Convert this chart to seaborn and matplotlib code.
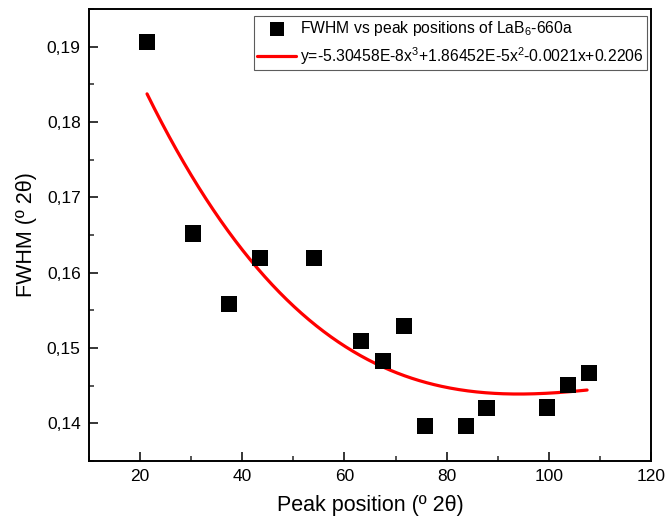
import numpy as np
import pandas as pd
import matplotlib
matplotlib.use("Agg")
import matplotlib.pyplot as plt
from matplotlib.ticker import MultipleLocator, FuncFormatter
import seaborn as sns

# ---- data ----
peak_position = [21.3, 30.3, 37.4, 43.4, 54.0, 63.2, 67.5, 71.7, 75.8, 83.8, 87.8, 99.7, 103.8, 107.8]
fwhm = [0.1906, 0.1652, 0.1558, 0.1620, 0.1620, 0.1509, 0.1483, 0.1529, 0.1396, 0.1397, 0.1420, 0.1421, 0.1451, 0.1467]
# cubic fit coefficients shown in the legend (highest power first)
fit_coeffs = [-5.30458e-8, 1.86452e-5, -0.0021, 0.2206]
fit_range = [21.36, 107.49]

scatter_label = "FWHM vs peak positions of LaB$_6$-660a"
fit_label = "y=-5.30458E-8x$^3$+1.86452E-5x$^2$-0.0021x+0.2206"
x_label = "Peak position (º 2θ)"
y_label = "FWHM (º 2θ)"

sns.set_style("ticks")
plt.rcParams['font.family'] = ['Liberation Sans', 'DejaVu Sans']
plt.rcParams['mathtext.fontset'] = 'custom'
plt.rcParams['mathtext.rm'] = 'Liberation Sans'
plt.rcParams['mathtext.it'] = 'Liberation Sans'
plt.rcParams['mathtext.default'] = 'regular'
plt.rcParams['text.color'] = 'black'
plt.rcParams['axes.labelcolor'] = 'black'

fig = plt.figure(figsize=(6.71, 5.31), dpi=100)
ax = fig.add_axes([89/671, 70/531, 562/671, 452/531])

df = pd.DataFrame({"x": peak_position, "y": fwhm})
xs = np.linspace(fit_range[0], fit_range[1], 300)
fit_df = pd.DataFrame({"x": xs, "y": np.polyval(fit_coeffs, xs)})

sns.scatterplot(data=df, x="x", y="y", marker="s", s=135, color="black",
                edgecolor="none", ax=ax, label=scatter_label, zorder=3)
sns.lineplot(data=fit_df, x="x", y="y", color="#ff0000", linewidth=2.3,
             ax=ax, label=fit_label, zorder=2)

ax.set_xlim(10, 120)
ax.set_ylim(0.135, 0.195)
ax.xaxis.set_major_locator(MultipleLocator(20))
ax.xaxis.set_minor_locator(MultipleLocator(10))
ax.yaxis.set_major_locator(MultipleLocator(0.01))
ax.yaxis.set_minor_locator(MultipleLocator(0.005))
ax.yaxis.set_major_formatter(FuncFormatter(lambda v, p: f"{v:.2f}".replace(".", ",")))

ax.tick_params(axis="both", which="major", direction="in", length=6.5, width=1.1,
               labelsize=12.5, colors="black", pad=6)
ax.tick_params(axis="both", which="minor", direction="in", length=3.5, width=1.1)
ax.tick_params(top=False, right=False)
for sp in ax.spines.values():
    sp.set_visible(True)
    sp.set_linewidth(1.4)
    sp.set_color("black")

ax.set_xlabel(x_label, fontsize=15.5, labelpad=8)
ax.set_ylabel(y_label, fontsize=15.5, labelpad=7)

leg = ax.legend(loc="upper right", bbox_to_anchor=(0.9929, 0.9845), borderaxespad=0,
                fontsize=11.3, frameon=True, fancybox=False, edgecolor="#333333",
                handlelength=2.5, handletextpad=0.25, borderpad=0.2, labelspacing=0.45,
                markerscale=0.9)
leg.get_frame().set_linewidth(0.8)
for t in leg.get_texts():
    t.set_color("black")

fig.savefig("out.png", dpi=100)
